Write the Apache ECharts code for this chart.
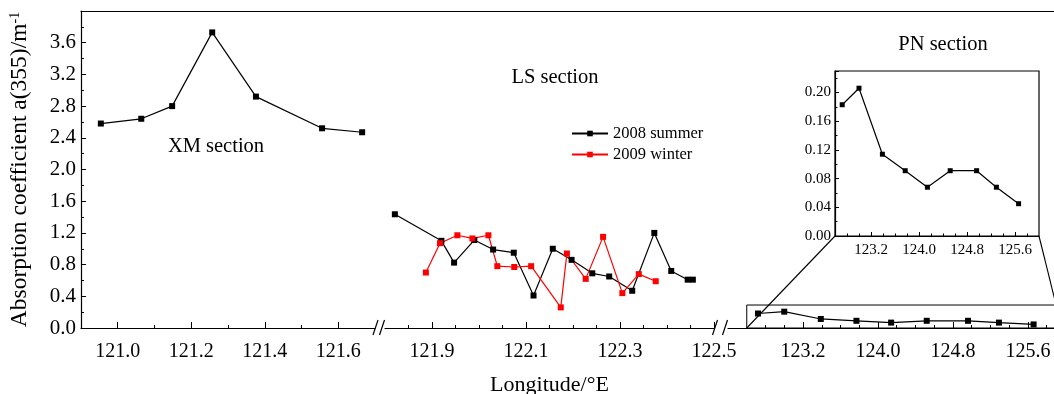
<!DOCTYPE html>
<html>
<head>
<meta charset="utf-8">
<script src="https://cdn.jsdelivr.net/npm/echarts@6/dist/echarts.min.js"></script>
<style>
html, body { margin: 0; padding: 0; background: #fff; }
#chart { width: 1054px; height: 394px; }
</style>
</head>
<body>
<div id="chart"></div>
<script>
// ---- data: absorption coefficient a(355) along three sections ----
// XM section
const xmLon = [120.954, 121.064, 121.148, 121.257, 121.376, 121.556, 121.665];
const xmVal = [2.58, 2.64, 2.80, 3.73, 2.92, 2.52, 2.47];

// LS section, two cruises
const lsSummerLon = [121.821, 121.920, 121.947, 121.990, 122.030, 122.074, 122.116, 122.157,
                     122.197, 122.241, 122.277, 122.326, 122.373, 122.409, 122.444, 122.455];
const lsSummerVal = [1.435, 1.10, 0.825, 1.11, 0.99, 0.95, 0.41, 1.00,
                     0.86, 0.69, 0.65, 0.47, 1.20, 0.72, 0.61, 0.61];
const lsWinterLon = [121.887, 121.917, 121.954, 121.986, 122.020, 122.039, 122.075, 122.111,
                     122.174, 122.187, 122.227, 122.264, 122.305, 122.340, 122.376];
const lsWinterVal = [0.70, 1.07, 1.17, 1.13, 1.17, 0.78, 0.77, 0.78,
                     0.26, 0.94, 0.62, 1.15, 0.44, 0.68, 0.59];

// PN section
const pnLon = [122.72, 123.00, 123.39, 123.77, 124.14, 124.52, 124.96, 125.29, 125.66];
const pnVal = [0.183, 0.206, 0.114, 0.091, 0.068, 0.091, 0.091, 0.068, 0.045];

// labelled ticks
const xmTicks = [121.0, 121.2, 121.4, 121.6];
const lsTicks = [121.9, 122.1, 122.3, 122.5];
const pnTicks = [123.2, 124.0, 124.8, 125.6];
const yTicks = [0.0, 0.4, 0.8, 1.2, 1.6, 2.0, 2.4, 2.8, 3.2, 3.6];
const insetYTicks = [0.00, 0.04, 0.08, 0.12, 0.16, 0.20];

// ---- layout ----
const FONT = "'Liberation Serif', 'Times New Roman', serif";
const BLACK = '#000';
const RED = '#ff0000';
const TOP = 11, HEIGHT = 317;
const BOTTOM_Y = TOP + HEIGHT;
const Y_MAX = 4.0;

// three broken segments of the longitude axis
const segs = [
  { left: 81,  px: 367.5, min: 120.9, max: 121.7 },
  { left: 385, px: 470,   min: 121.8, max: 122.5 },
  { left: 728, px: 93.75, min: 122.4, max: 126.1 }
];
const inset = { left: 835, top: 71, width: 204, height: 165, min: 122.6, max: 126.0, yMax: 0.23 };
inset.px = inset.width / (inset.max - inset.min);

const grids = [], xAxes = [], yAxes = [];
function addGrid(g, x, y) {
  grids.push(Object.assign({ containLabel: false, outerBoundsMode: 'none' }, g));
  const gi = grids.length - 1;
  xAxes.push(Object.assign({ gridIndex: gi, type: 'value', splitLine: { show: false } }, x));
  yAxes.push(Object.assign({ gridIndex: gi, type: 'value', splitLine: { show: false } }, y));
  return gi;
}
const axisLineStyle = { show: true, onZero: false, lineStyle: { color: BLACK, width: 1.2 } };
const hiddenY = (max) => ({ show: false, min: 0, max: max });

// tick-only axis covering [a, b] inside a segment
function tickAxis(seg, top, height, a, b, step, len, labelOpt, yMax) {
  return addGrid(
    { left: seg.left + (a - seg.min) * seg.px, width: (b - a) * seg.px, top: top, height: height },
    {
      min: a, max: b, interval: step,
      axisLine: { show: false },
      axisTick: { show: true, inside: true, length: len, lineStyle: { color: BLACK, width: 1 } },
      axisLabel: labelOpt ? labelOpt : { show: false }
    },
    hiddenY(yMax)
  );
}
const mainLabel = (d) => ({
  show: true, margin: 14, color: BLACK, fontSize: 20, fontFamily: FONT,
  formatter: (v) => v.toFixed(d)
});
const step = (arr) => +(arr[1] - arr[0]).toFixed(6);

// data grids
const g0 = addGrid(
  { left: segs[0].left, width: (segs[0].max - segs[0].min) * segs[0].px, top: TOP, height: HEIGHT },
  { min: segs[0].min, max: segs[0].max, axisLine: axisLineStyle, axisTick: { show: false }, axisLabel: { show: false } },
  {
    min: 0, max: Y_MAX, interval: step(yTicks),
    axisLine: axisLineStyle,
    axisTick: { show: true, inside: true, length: 5, lineStyle: { color: BLACK } },
    minorTick: { show: true, splitNumber: 2, length: 3, lineStyle: { color: BLACK } },
    axisLabel: { show: true, margin: 5, color: BLACK, fontSize: 21, fontFamily: FONT,
                 showMaxLabel: false, formatter: (v) => v.toFixed(1) },
    name: 'Absorption coefficient a(355)/m{sup|-1}',
    nameLocation: 'middle', nameGap: 49,
    nameTextStyle: {
      color: BLACK, fontSize: 23.5, fontFamily: FONT,
      rich: { sup: { fontSize: 14, fontFamily: FONT, color: BLACK, verticalAlign: 'top' } }
    }
  }
);
const g1 = addGrid(
  { left: segs[1].left, width: (segs[1].max - segs[1].min) * segs[1].px, top: TOP, height: HEIGHT },
  { min: segs[1].min, max: segs[1].max, axisLine: axisLineStyle, axisTick: { show: false }, axisLabel: { show: false },
    name: 'Longitude/°E', nameLocation: 'middle', nameGap: 46,
    nameTextStyle: { color: BLACK, fontSize: 22, fontFamily: FONT } },
  hiddenY(Y_MAX)
);
const g2 = addGrid(
  { left: segs[2].left, width: (segs[2].max - segs[2].min) * segs[2].px, top: TOP, height: HEIGHT },
  { min: segs[2].min, max: segs[2].max, axisLine: axisLineStyle, axisTick: { show: false }, axisLabel: { show: false } },
  hiddenY(Y_MAX)
);
// top frame line running across all segments
addGrid(
  { left: segs[0].left, width: 1100, top: TOP, height: HEIGHT },
  { position: 'top', min: 0, max: 1, axisLine: axisLineStyle, axisTick: { show: false }, axisLabel: { show: false } },
  hiddenY(1)
);

// tick axes of the main plot
const xmT = tickAxis(segs[0], TOP, HEIGHT, xmTicks[0], xmTicks[xmTicks.length - 1], step(xmTicks), 6, mainLabel(1), 1);
xAxes[xmT].minorTick = { show: true, splitNumber: 2, length: 3, lineStyle: { color: BLACK } };
tickAxis(segs[1], TOP, HEIGHT, lsTicks[0], lsTicks[lsTicks.length - 1], step(lsTicks), 6, mainLabel(1), 1);
tickAxis(segs[1], TOP, HEIGHT, 121.85, lsTicks[lsTicks.length - 1], 0.05, 3, null, 1);
tickAxis(segs[2], TOP, HEIGHT, pnTicks[0], pnTicks[pnTicks.length - 1], step(pnTicks), 6, mainLabel(1), 1);
tickAxis(segs[2], TOP, HEIGHT, 122.8, 125.8, 0.2, 3, null, 1);

// inset (PN section enlarged)
const gi = addGrid(
  { left: inset.left, width: inset.width, top: inset.top, height: inset.height,
    show: true, borderColor: BLACK, borderWidth: 1.2, backgroundColor: '#fff' },
  { min: inset.min, max: inset.max, axisLine: axisLineStyle, axisTick: { show: false }, axisLabel: { show: false } },
  {
    min: 0, max: inset.yMax, interval: step(insetYTicks),
    axisLine: axisLineStyle,
    axisTick: { show: true, inside: true, length: 4, lineStyle: { color: BLACK } },
    minorTick: { show: true, splitNumber: 2, length: 2.5, lineStyle: { color: BLACK } },
    axisLabel: { show: true, margin: 4, color: BLACK, fontSize: 15, fontFamily: FONT,
                 showMaxLabel: false, formatter: (v) => v.toFixed(2) }
  }
);
const insetSeg = { left: inset.left, px: inset.px, min: inset.min };
tickAxis(insetSeg, inset.top, inset.height, pnTicks[0], pnTicks[pnTicks.length - 1], step(pnTicks), 4,
  { show: true, margin: 7, color: BLACK, fontSize: 15, fontFamily: FONT, formatter: (v) => v.toFixed(1) }, 1);
tickAxis(insetSeg, inset.top, inset.height, 122.8, 125.8, 0.2, 2.5, null, 1);

const pairs = (xs, ys) => xs.map((x, i) => [x, ys[i]]);
function lineSeries(name, grid, xs, ys, color, size, extra) {
  return Object.assign({
    type: 'line', name: name, xAxisIndex: grid, yAxisIndex: grid,
    data: pairs(xs, ys), symbol: 'rect', symbolSize: size, showSymbol: true,
    lineStyle: { color: color, width: 1.2 }, itemStyle: { color: color },
    emphasis: { disabled: true }, animation: false, z: 5
  }, extra || {});
}

const series = [
  lineSeries('XM section', g0, xmLon, xmVal, BLACK, 6),
  lineSeries('2008 summer', g1, lsSummerLon, lsSummerVal, BLACK, 6),
  lineSeries('2009 winter', g1, lsWinterLon, lsWinterVal, RED, 6),
  lineSeries('PN section', g2, pnLon, pnVal, BLACK, 6, {
    markArea: {
      silent: true,
      itemStyle: { color: 'rgba(0,0,0,0)', borderColor: BLACK, borderWidth: 1 },
      label: { show: false },
      data: [[{ coord: [inset.min, 0] }, { coord: [125.9, 0.29] }]]
    }
  }),
  lineSeries('PN section (inset)', gi, pnLon, pnVal, BLACK, 5)
];

const textStyle = (t, x, y) => ({
  type: 'text', id: 'txt-' + t, x: x, y: y, z: 10,
  style: { text: t, fill: BLACK, fontSize: 20.5, fontFamily: FONT, align: 'center', verticalAlign: 'middle' }
});

const chart = echarts.init(document.getElementById('chart'), null, { renderer: 'canvas' });
chart.setOption({
  animation: false,
  backgroundColor: '#fff',
  grid: grids,
  xAxis: xAxes,
  yAxis: yAxes,
  legend: {
    data: ['2008 summer', '2009 winter'],
    orient: 'vertical', left: 566, top: 120,
    itemWidth: 36, itemHeight: 7, itemGap: 4,
    textStyle: { color: BLACK, fontSize: 16.5, fontFamily: FONT, lineHeight: 16 },
    selectedMode: false
  },
  series: series,
  graphic: [
    textStyle('XM section', 216, 147),
    textStyle('LS section', 555, 78),
    textStyle('PN section', 943, 45)
  ]
});

// axis break marks and zoom connectors, placed from the axes' own coordinates
const extras = [];
function slash(id, cx) {
  extras.push({
    type: 'line', id: id, z: 10,
    shape: { x1: cx - 2.5, y1: BOTTOM_Y + 7, x2: cx + 2.5, y2: BOTTOM_Y - 8 },
    style: { stroke: BLACK, lineWidth: 1.2 }
  });
}
const seg0Right = chart.convertToPixel({ xAxisIndex: g0, yAxisIndex: g0 }, [segs[0].max, 0])[0];
const seg1Left = chart.convertToPixel({ xAxisIndex: g1, yAxisIndex: g1 }, [segs[1].min, 0])[0];
const seg1Right = chart.convertToPixel({ xAxisIndex: g1, yAxisIndex: g1 }, [segs[1].max, 0])[0];
const seg2Left = chart.convertToPixel({ xAxisIndex: g2, yAxisIndex: g2 }, [segs[2].min, 0])[0];
slash('brk-a1', seg0Right + 0.5);
slash('brk-a2', seg1Left - 3);
slash('brk-b1', seg1Right + 1);
slash('brk-b2', seg2Left - 3);

const boxBL = chart.convertToPixel({ xAxisIndex: g2, yAxisIndex: g2 }, [inset.min, 0]);
const boxTR = chart.convertToPixel({ xAxisIndex: g2, yAxisIndex: g2 }, [125.9, 0.29]);
const insBL = chart.convertToPixel({ xAxisIndex: gi, yAxisIndex: gi }, [inset.min, 0]);
const insBR = chart.convertToPixel({ xAxisIndex: gi, yAxisIndex: gi }, [inset.max, 0]);
extras.push({
  type: 'line', id: 'zoom-left', z: 1,
  shape: { x1: boxBL[0], y1: boxBL[1], x2: insBL[0], y2: insBL[1] },
  style: { stroke: BLACK, lineWidth: 1.1 }
});
extras.push({
  type: 'line', id: 'zoom-right', z: 1,
  shape: { x1: boxTR[0], y1: boxTR[1], x2: insBR[0], y2: insBR[1] },
  style: { stroke: BLACK, lineWidth: 1.1 }
});
chart.setOption({ graphic: extras });
</script>
</body>
</html>
